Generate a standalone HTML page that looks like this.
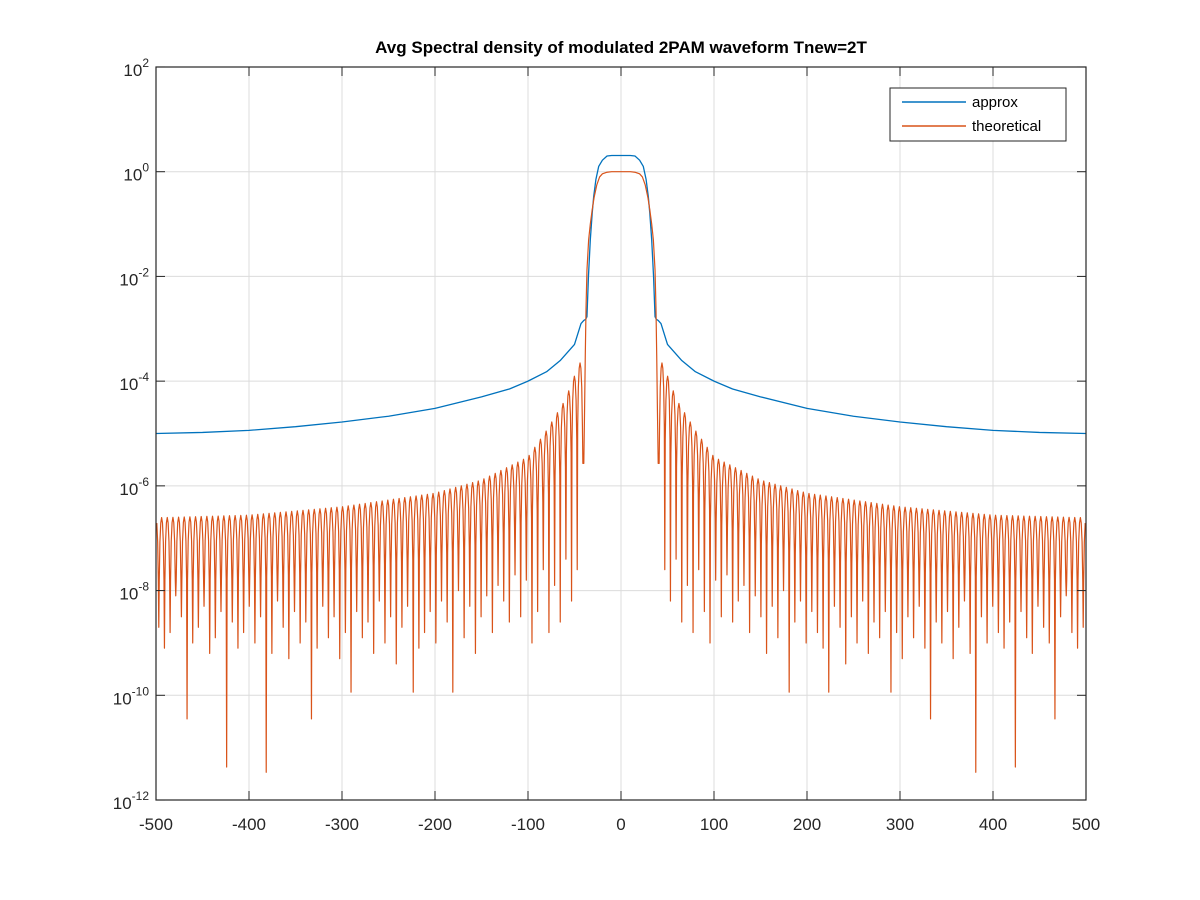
<!DOCTYPE html>
<html><head><meta charset="utf-8"><style>
body{margin:0;background:#fff}
svg{display:block;font-family:"Liberation Sans",Arial,sans-serif}
</style></head><body>
<svg id="chart" width="1200" height="900" viewBox="0 0 1200 900" xmlns="http://www.w3.org/2000/svg">
<rect width="1200" height="900" fill="#fff"/>
<rect x="156" y="67" width="930" height="733" fill="#fff"/>
<g id="grid"></g>
<g id="series"></g>
<g id="axes"></g>
<text x="621" y="53" text-anchor="middle" font-size="17" font-weight="bold" fill="#000">Avg Spectral density of modulated 2PAM waveform Tnew=2T</text>
<g>
<rect x="890" y="88" width="176" height="53" fill="#fff" stroke="#262626" stroke-width="1"/>
<line x1="902" y1="102" x2="966" y2="102" stroke="#0072BD" stroke-width="1.5"/>
<text x="972" y="107" font-size="15" fill="#000">approx</text>
<line x1="902" y1="126" x2="966" y2="126" stroke="#D95319" stroke-width="1.5"/>
<text x="972" y="131" font-size="15" fill="#000">theoretical</text>
</g>
</svg>
<script>
const xTicks=[-500,-400,-300,-200,-100,0,100,200,300,400,500];
const yTickExps=[2,0,-2,-4,-6,-8,-10,-12];
// approx (blue) curve, one side (mirrored): frequency and log10 value
const approxFreq=[0,10,15,20,24,27,29.4,31,33,35,36.6,38,40,43,50,65,80,100,120,150,200,250,300,350,400,450,500];
const approxLog=[0.31,0.31,0.30,0.22,0.10,-0.15,-0.48,-0.8,-1.3,-2.0,-2.77,-2.82,-2.84,-2.9,-3.3,-3.6,-3.82,-4.0,-4.15,-4.3,-4.52,-4.67,-4.78,-4.87,-4.94,-4.98,-5.0];
// theoretical main lobe, one side
const mainFreq=[0,10,15,20,23,26,29,31,33,34.8,36.6,37.6,38.4,39.2,40];
const mainLog=[0,0,-0.01,-0.04,-0.1,-0.25,-0.5,-0.73,-1.0,-1.3,-1.88,-2.6,-3.5,-4.6,-5.57];
// sidelobe peak envelope, one side
const envFreq=[41,45,60,80,100,150,200,300,400,500];
const envLog=[-3.6,-3.67,-4.36,-4.94,-5.45,-5.89,-6.14,-6.4,-6.56,-6.61];
// null depths (log10), from inner lobe outward
const nullLog=[-5.57,-7.6,-8.2,-7.4,-8.6,-7.9,-8.8,-7.6,-8.4,-9.0,-7.8,-8.5,-7.7,-8.6,-8.2,-7.9,-8.8,-8.1,-8.5,-9.2,-8.3,-8.9,-8.0,-9.94,-8.6,-8.2,-9.0,-8.4,-8.8,-9.1,-9.94,-8.3,-8.7,-9.4,-8.5,-9.0,-8.2,-9.2,-8.6,-8.9,-8.4,-9.94,-8.8,-9.3,-8.5,-8.9,-8.3,-9.1,-10.45,-8.6,-9.0,-8.4,-9.3,-8.7,-8.2,-9.2,-11.47,-8.5,-9.0,-8.3,-8.8,-9.1,-8.6,-11.37,-8.4,-8.9,-9.2,-8.3,-8.7,-9.0,-10.45,-8.5,-8.1,-8.8,-9.1,-8.7,-8.3];
const nullStart=41, nullSpacing=6.08;

const NS='http://www.w3.org/2000/svg';
const X=f=>156+(f+500)*0.93;
const Y=l=>171.7-l*52.36;
function mk(tag,attrs,parent){const e=document.createElementNS(NS,tag);for(const k in attrs)e.setAttribute(k,attrs[k]);parent.appendChild(e);return e;}
function interp(xs,ys,x){if(x<=xs[0])return ys[0];for(let i=1;i<xs.length;i++){if(x<=xs[i]){const t=(x-xs[i-1])/(xs[i]-xs[i-1]);return ys[i-1]+t*(ys[i]-ys[i-1]);}}return ys[ys.length-1];}
const grid=document.getElementById('grid'),axes=document.getElementById('axes'),series=document.getElementById('series');
xTicks.forEach(v=>{
  const x=X(v);
  if(v>-500&&v<500){const g=mk('line',{x1:x,y1:67,x2:x,y2:800,stroke:'#dcdcdc','stroke-width':1},grid);
  
  }
  const t1=mk('line',{x1:x,y1:800,x2:x,y2:791,stroke:'#262626','stroke-width':1},axes);
  
  
  const t2=mk('line',{x1:x,y1:67,x2:x,y2:76,stroke:'#262626','stroke-width':1},axes);
  
  
  const lb=mk('text',{x:x,y:830,'text-anchor':'middle','font-size':17,fill:'#262626'},axes);
  lb.textContent=String(v);
  
  
});
yTickExps.forEach(e=>{
  const y=Y(e);
  if(e<2&&e>-12){const g=mk('line',{x1:156,y1:y,x2:1086,y2:y,stroke:'#dcdcdc','stroke-width':1},grid);
  
  }
  const t1=mk('line',{x1:156,y1:y,x2:165,y2:y,stroke:'#262626','stroke-width':1},axes);
  
  
  const t2=mk('line',{x1:1086,y1:y,x2:1077,y2:y,stroke:'#262626','stroke-width':1},axes);
  
  
  const lb=mk('text',{x:149,y:y+9,'text-anchor':'end','font-size':17,fill:'#262626'},axes);
  
  
  const b=document.createElementNS(NS,'tspan');b.textContent='10';lb.appendChild(b);
  const s=document.createElementNS(NS,'tspan');s.setAttribute('dy','-9');s.setAttribute('font-size','12');s.textContent=String(e);lb.appendChild(s);
});
const box=mk('rect',{x:156,y:67,width:930,height:733,fill:'none',stroke:'#262626','stroke-width':1.2},axes);



function theoSide(sign){
  const pts=[];
  for(let i=0;i<mainFreq.length;i++)pts.push([mainFreq[i],mainLog[i]]);
  for(let k=0;k<nullLog.length;k++){
    const n0=nullStart+k*nullSpacing;
    if(n0>500)break;
    pts.push([n0,nullLog[k]]);
    const P=interp(envFreq,envLog,n0+nullSpacing/2);
    [0.08,0.2,0.35,0.5,0.65,0.8,0.92].forEach(t=>{
      const f=n0+t*nullSpacing; if(f>500)return;
      const s=Math.sin(Math.PI*t);pts.push([f,P+Math.log10(s*s)]);
    });
  }
  return pts.map(p=>[sign*p[0],p[1]]);
}
function approxSide(sign){return approxFreq.map((f,i)=>[sign*f,approxLog[i]]);}
function toPath(left,right){
  const all=left.slice().reverse().concat(right.slice(1));
  return all.map((p,i)=>(i?'L':'M')+X(p[0]).toFixed(2)+' '+Y(p[1]).toFixed(2)).join(' ');
}
const ap=mk('path',{d:toPath(approxSide(-1),approxSide(1)),fill:'none',stroke:'#0072BD','stroke-width':1.3,'stroke-linejoin':'round'},series);


const tp=mk('path',{d:toPath(theoSide(-1),theoSide(1)),fill:'none',stroke:'#D95319','stroke-width':1.2,'stroke-linejoin':'round'},series);


</script>
</body></html>
